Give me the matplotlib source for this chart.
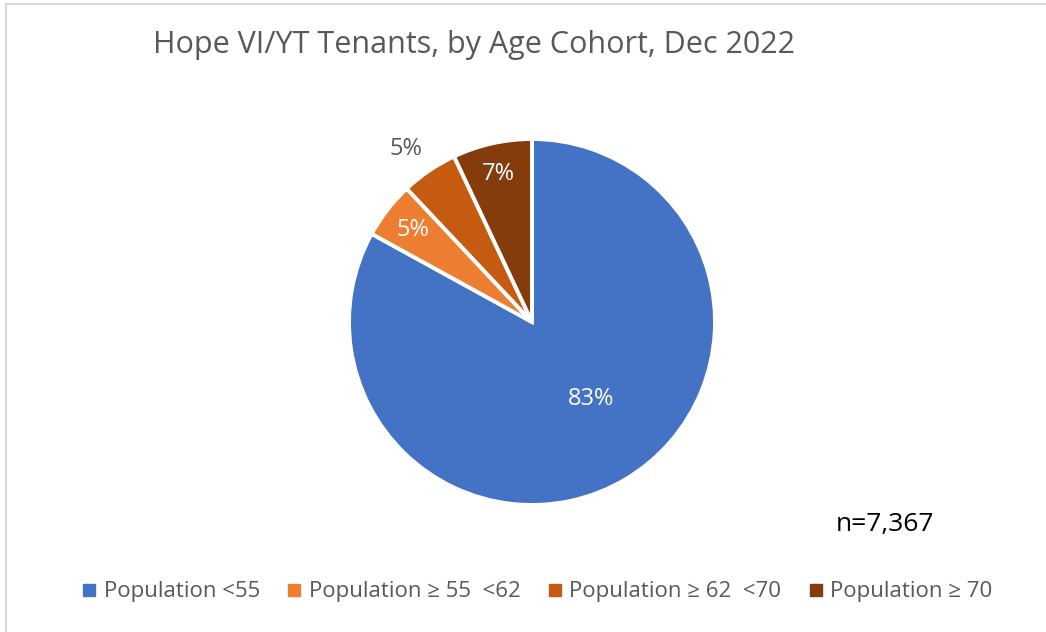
import numpy as np
import matplotlib.pyplot as plt
from matplotlib.patches import Rectangle
from matplotlib.lines import Line2D

# data
categories = ['Population <55', 'Population \u2265 55  <62',
              'Population \u2265 62  <70', 'Population \u2265 70']
shares = [83, 5, 5, 7]
colors = ['#4472C4', '#ED7D31', '#C55A11', '#843C0C']
total_n = '7,367'

plt.rcParams['font.family'] = ['Open Sans', 'DejaVu Sans']
TXT = '#595959'

fig = plt.figure(figsize=(10.46, 6.32), dpi=100)
W, H = 1046, 632

# thin grey frame at the left/top edge like the screenshot
fig.patches.append(Rectangle((6 / W, -0.1), 1.2, 1 - 4 / H + 0.1,
                             transform=fig.transFigure, fill=False,
                             edgecolor='#d9d9d9', linewidth=1.5))

# axes sized in pixels so the pie lands where it should
cx, cy, half = 532, 322, 210
ax = fig.add_axes([(cx - half) / W, (H - cy - half) / H, 2 * half / W, 2 * half / H])

radius = 183
wedges, _ = ax.pie(shares, colors=colors, startangle=90, counterclock=False,
                   radius=radius, wedgeprops=dict(edgecolor='white', linewidth=2.8))
ax.set_xlim(-half, half)
ax.set_ylim(-half, half)
ax.set_aspect('equal')
ax.axis('off')

# slice labels (distance as a fraction of radius, small angle nudge)
label_dist = [0.53, 0.82, 1.17, 0.83]
label_nudge = [7, 0, 2, 0]
cum = np.cumsum([0] + shares)
for i, w in enumerate(wedges):
    mid = 90 - (cum[i] + shares[i] / 2) / sum(shares) * 360 + label_nudge[i]
    r = radius * label_dist[i]
    col = 'white' if label_dist[i] < 1 else TXT
    ax.text(r * np.cos(np.radians(mid)), r * np.sin(np.radians(mid)),
            f'{shares[i]}%', ha='center', va='center', color=col, fontsize=17)

fig.text(153 / W, 1 - 45 / H, 'Hope VI/YT Tenants, by Age Cohort, Dec 2022',
         ha='left', va='center', color=TXT, fontsize=22)

fig.text(836 / W, 1 - 525 / H, f'n={total_n}', ha='left', va='center',
         color='black', fontsize=19)

handles = [Line2D([], [], marker='s', linestyle='none', markersize=9,
                  markerfacecolor=c, markeredgecolor=c) for c in colors]
fig.legend(handles, categories, loc='center', bbox_to_anchor=(537 / W, 1 - 592 / H),
           ncol=4, frameon=False, fontsize=16, labelcolor=TXT,
           handlelength=0.7, handletextpad=0.3, columnspacing=1.2)

fig.savefig('out.png', dpi=100, facecolor='white')
